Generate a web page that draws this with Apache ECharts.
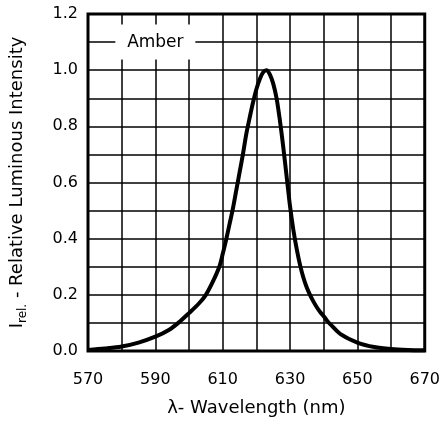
<!DOCTYPE html>
<html>
<head>
<meta charset="utf-8">
<script src="https://cdn.jsdelivr.net/npm/echarts@6/dist/echarts.min.js"></script>
<style>
  html, body { margin: 0; padding: 0; background: #fff; }
  #chart { width: 443px; height: 424px; }
</style>
</head>
<body>
<div id="chart"></div>
<script>
// wavelength (nm) and relative intensity
var wavelength = [570, 575, 580, 585, 590, 594, 597, 600, 603, 605, 607, 609, 610, 611, 612, 613, 614, 615, 616, 617, 618, 619, 620, 621, 622, 623, 624, 625, 626, 627, 628, 629, 630, 631, 632, 633, 634, 635, 636, 637, 638, 639, 640, 641, 642, 645, 650, 655, 660, 665, 670];
var intensity = [0.004, 0.009, 0.016, 0.03, 0.051, 0.075, 0.102, 0.135, 0.17, 0.2, 0.245, 0.3, 0.345, 0.395, 0.45, 0.505, 0.57, 0.635, 0.7, 0.772, 0.83, 0.885, 0.932, 0.968, 0.992, 1.0, 0.985, 0.952, 0.9, 0.82, 0.725, 0.62, 0.515, 0.43, 0.362, 0.305, 0.26, 0.225, 0.198, 0.175, 0.155, 0.138, 0.124, 0.108, 0.095, 0.06, 0.03, 0.014, 0.007, 0.004, 0.003];
var xTicks = [570, 590, 610, 630, 650, 670];
var seriesLabel = 'Amber';

var points = wavelength.map(function (w, i) { return [w, intensity[i]]; });

var myChart = echarts.init(document.getElementById('chart'));
var font = 'DejaVu Sans';

myChart.setOption({
  animation: false,
  backgroundColor: '#fff',
  grid: {
    left: 86, right: 17, top: 14, bottom: 73,
    show: true,
    borderColor: '#000',
    borderWidth: 3
  },
  xAxis: {
    type: 'value',
    min: 570, max: 670, interval: 10,
    name: 'λ- Wavelength (nm)',
    nameLocation: 'middle',
    nameGap: 48,
    nameTextStyle: { color: '#000', fontSize: 18, fontFamily: font },
    axisLine: { show: false },
    axisTick: { show: false },
    axisLabel: {
      margin: 21,
      color: '#000', fontSize: 16, fontFamily: font,
      formatter: function (v) { return xTicks.indexOf(v) >= 0 ? String(v) : ''; }
    },
    splitLine: { show: true, lineStyle: { color: '#000', width: 1.5 } }
  },
  yAxis: {
    type: 'value',
    min: 0, max: 1.2, interval: 0.1,
    name: '{a|I}{b|rel.}{a| - Relative Luminous Intensity}',
    nameLocation: 'middle',
    nameGap: 59,
    nameRotate: 90,
    nameTextStyle: {
      color: '#000', fontFamily: font,
      rich: {
        a: { fontSize: 18, fontFamily: font, color: '#000', lineHeight: 24, verticalAlign: 'middle' },
        b: { fontSize: 12, fontFamily: font, color: '#000', lineHeight: 24, verticalAlign: 'bottom' }
      }
    },
    axisLine: { show: false },
    axisTick: { show: false },
    axisLabel: {
      margin: 10,
      color: '#000', fontSize: 16, fontFamily: font,
      formatter: function (v) {
        return Math.round(v * 10) % 2 === 0 ? v.toFixed(1) : '';
      }
    },
    splitLine: { show: true, lineStyle: { color: '#000', width: 1.5 } }
  },
  series: [{
    type: 'line',
    data: points,
    smooth: 0.3,
    symbol: 'none',
    lineStyle: { color: '#000', width: 4 },
    markPoint: {
      silent: true,
      symbol: 'rect',
      symbolSize: [80, 35],
      itemStyle: { color: '#fff' },
      label: {
        show: true, position: 'inside',
        color: '#000', fontSize: 17, fontFamily: font,
        formatter: seriesLabel
      },
      data: [{ coord: [590, 1.1] }]
    }
  }]
});

window.addEventListener('resize', function () { myChart.resize(); });
</script>
</body>
</html>
